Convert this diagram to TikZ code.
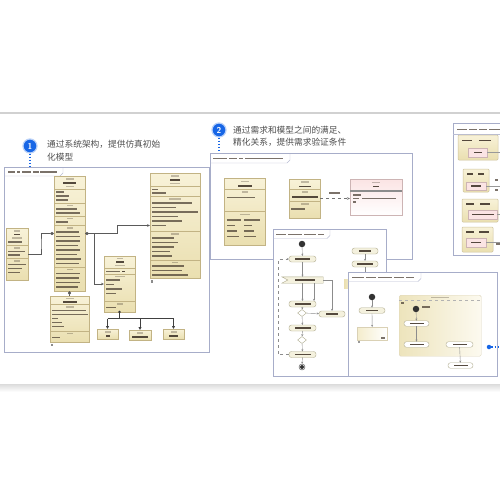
\documentclass[tikz,border=0pt]{standalone}
\usepackage{fontspec}
\newfontfamily\cjk{Noto Sans CJK SC}
\usetikzlibrary{arrows.meta,calc,shapes.geometric}
\definecolor{frameC}{HTML}{A7ADC9}
\definecolor{clsA}{HTML}{F8F2D8}
\definecolor{clsB}{HTML}{EADFB0}
\definecolor{clsD}{HTML}{C2B384}
\definecolor{pinkA}{HTML}{FBE4E4}
\definecolor{pinkD}{HTML}{CDB4B4}
\definecolor{actA}{HTML}{F4F1DE}
\definecolor{actD}{HTML}{AFAB8E}
\definecolor{txtC}{HTML}{43372C}
\definecolor{blueC}{HTML}{1766E6}
\definecolor{capC}{HTML}{4F4F4F}
\definecolor{connC}{HTML}{5A5A5A}
\newcommand\txl[3]{\fill[txtC, fill opacity=0.7] (#1,#2-0.85) rectangle ++(#3,1.7);}
\newcommand\txc[3]{\fill[txtC, fill opacity=0.9] ({#1-#3/2},#2-0.9) rectangle ++(#3,1.8);}
\newcommand\txs[3]{\fill[txtC, fill opacity=0.3] ({#1-#3/2},#2-0.6) rectangle ++(#3,1.2);}
\newcommand\dv[3]{\draw[clsD, line width=0.4pt] (#1,#3) -- (#2,#3);}
\begin{document}
\begin{tikzpicture}[x=1pt,y=-1pt,
  frame/.style={draw=frameC, line width=0.9pt, fill=white, anchor=north west, inner sep=0pt, outer sep=0pt},
  cls/.style={draw=clsD, line width=0.5pt, top color=clsA, bottom color=clsB, anchor=north west, inner sep=0pt, outer sep=0pt},
  pinkbox/.style={draw=pinkD, line width=0.5pt, top color=pinkA, bottom color=white, anchor=north west, inner sep=0pt, outer sep=0pt},
  act/.style={draw=actD, line width=0.4pt, rounded corners=2.5pt, fill=actA, minimum width=27pt, minimum height=6pt, inner sep=0pt, outer sep=0pt},
  conn/.style={draw=connC, line width=0.6pt},
  flow/.style={draw=black!45, line width=0.4pt, -{Stealth[length=2.2pt,width=2pt]}},
  tabline/.style={draw=frameC!80, line width=0.4pt},
  caption/.style={anchor=west, inner sep=0pt, text=capC, font=\cjk\fontsize{8.7}{10}\selectfont},
  badge/.style={circle, fill=blueC, draw=blueC!30, line width=1.2pt, minimum size=14pt, inner sep=0pt, text=white, font=\sffamily\bfseries\fontsize{8.5}{8.5}\selectfont},
  bluedot/.style={blueC, dotted, line width=1.1pt},
  init/.style={circle, fill=black!80, minimum size=6.5pt, inner sep=0pt},
  dec/.style={diamond, draw=actD, fill=white, minimum width=9pt, minimum height=7pt, inner sep=0pt},
  sbox/.style={draw=clsD!80, line width=0.5pt, top color=clsA, bottom color=clsB, rounded corners=1pt, anchor=north west, inner sep=0pt, outer sep=0pt},
  pk/.style={draw=pinkD, line width=0.4pt, fill=pinkA, anchor=north west, inner sep=0pt, outer sep=0pt}]
\useasboundingbox (0,0) rectangle (500,500);
\fill[white] (0,0) rectangle (500,500);
\draw[black!18, line width=1.2pt] (0,113) -- (500,113);
\shade[top color=black!14, bottom color=white] (0,384) rectangle (500,392);

% ---------- captions ----------
\node[badge] (n1) at (30,146) {1};
\node[caption] (cap1a) at (47,144) {通过系统架构，提供仿真初始};
\node[caption] (cap1b) at (47,157) {化模型};
\node[badge] (n2) at (219,130) {2};
\node[caption] (cap2a) at (233,130) {通过需求和模型之间的满足、};
\node[caption] (cap2b) at (233,142.5) {精化关系，提供需求验证条件};

% ---------- frame 1 ----------
\node[frame, minimum width=205pt, minimum height=185pt] (fr1) at (4,167) {};
\draw[bluedot] (n1.south) -- (n1.south |- fr1.north);
\draw[tabline] (4,176) -- (60,176) -- (63,173) -- (63,168);
\txl{8}{172}{7}\txl{17}{172}{3}\txl{22}{172}{9}\txl{33}{172}{6}\txl{40}{172}{17}

% box A
\node[cls, minimum width=31pt, minimum height=115pt] (a1) at (54,176) {};
\txs{69.5}{179}{8}\txc{69.5}{183}{13}\txs{69.5}{186.5}{8}
\dv{54}{85}{189}
\foreach \y/\w in {192/8,196/13,200/12}{\txl{56}{\y}{\w}}
\dv{54}{85}{203}\txs{69.5}{205.5}{6}
\foreach \y/\w in {209/21,213/24}{\txl{56}{\y}{\w}}
\dv{54}{85}{216}\txs{69.5}{218.5}{6}
\txl{56}{222}{12}
\dv{54}{85}{225.5}\txs{69.5}{228}{6}
\foreach \y/\w in {232/23,236.5/24,241/24,245.5/22,250/24,254.5/21,259/25,263.5/23}{\txl{56}{\y}{\w}}
\dv{54}{85}{267}\txs{69.5}{269.5}{6}
\foreach \y/\w in {273.5/24,278/23,282.5/24,287/22}{\txl{56}{\y}{\w}}

% box B
\node[cls, minimum width=22pt, minimum height=52pt] (b1) at (6,228) {};
\txs{17}{231}{6}\txc{17}{234.5}{6}\txs{17}{238}{10}
\txl{8}{242}{14}
\dv{6}{28}{245.5}\txs{17}{248}{6}
\txl{8}{251.5}{17}\txl{8}{255}{12}
\dv{6}{28}{258.5}\txs{17}{261}{6}
\txl{8}{264.5}{18}\txl{8}{268.5}{14}\txl{8}{272.5}{12}

% box C
\node[cls, minimum width=50pt, minimum height=105pt] (c1) at (150,173) {};
\txs{175}{176}{8}\txc{175}{180}{10}\txs{175}{183.5}{10}
\dv{150}{200}{186}
\txl{152}{189.5}{6}\txl{152}{193}{14}
\dv{150}{200}{196.5}\txs{175}{199}{12}
\foreach \y/\w in {203/40,207.5/24,212/46,216.5/26,221/30,225.5/14}{\txl{152}{\y}{\w}}
\dv{150}{200}{231}\txs{175}{234}{8}
\foreach \y/\w in {238/22,242.5/26,247/22,251.5/18,256/20}{\txl{152}{\y}{\w}}
\dv{150}{200}{260}\txs{175}{262.5}{6}
\foreach \y/\w in {266/32,270.5/30,275/36}{\txl{152}{\y}{\w}}
\fill[black!45] (151,280) rectangle (153,282.5);

% box D
\node[cls, minimum width=39pt, minimum height=46pt] (d1) at (50,296) {};
\txs{69.5}{298.5}{8}\txc{69.5}{302}{14}
\dv{50}{89}{304.5}\txs{69.5}{307}{8}
\foreach \y/\w in {310.5/34,314.5/36,318.5/6,322.5/10,326.5/12}{\txl{52}{\y}{\w}}
\dv{50}{89}{331}\txs{69.5}{333.5}{6}
\txl{52}{337.5}{8}
\fill[black!45] (51,343.5) rectangle (53,346);

% box E
\node[cls, minimum width=31pt, minimum height=56pt] (e1) at (104,256) {};
\txs{119.5}{258.5}{6}\txc{119.5}{262}{8}\txs{119.5}{265.5}{10}
\dv{104}{135}{268}
\txl{106}{271.5}{14}\txc{123}{271.5}{3}
\dv{104}{135}{274}\txs{119.5}{276.5}{10}
\foreach \y/\w in {280/14,284.5/8,289/16,293.5/10}{\txl{106}{\y}{\w}}
\dv{104}{135}{301.5}\txs{119.5}{304}{6}
\txl{106}{307.5}{10}

% small boxes
\node[cls, minimum width=21pt, minimum height=10pt] (g1f) at (97,329) {};
\txs{107.5}{332}{6}\txc{107.5}{336}{4}
\node[cls, minimum width=22pt, minimum height=10pt] (g1g) at (129,330) {};
\txs{140}{333}{6}\txc{140}{337}{16}
\node[cls, minimum width=21pt, minimum height=10pt] (g1h) at (163,329) {};
\txs{173.5}{332}{6}\txc{173.5}{336}{9}

% connectors frame 1
\draw[conn, -{Diamond[length=4pt,width=3.2pt]}] (b1.east) -| ($(b1.east)!0.5!(a1.west)$) |- (a1.west);
\draw[conn, {Diamond[length=4pt,width=3.2pt]}-{Stealth[length=3pt,width=2.6pt]}] (a1.east) -- ++(32,0) |- (c1.west);
\draw[conn, -{Stealth[length=3pt,width=2.6pt,open]}] (a1.east) -- ++(9,0) |- (e1.west);
\draw[conn, {Diamond[length=4pt,width=3.2pt]}-] (a1.south) -- (d1.north);
\coordinate (bus) at (119.5,318.5);
\fill[black!80] (e1.south) circle (1.3);
\draw[black!75, line width=1pt] (e1.south) -- (bus);
\draw[black!75, line width=1pt] (g1f.north |- bus) -- (g1h.north |- bus);
\foreach \t in {g1f,g1g,g1h}{\draw[black!75, line width=1pt, -{Triangle[length=3pt,width=3pt,open]}] (\t.north |- bus) -- (\t.north);}

% ---------- frame 2 ----------
\node[frame, minimum width=202pt, minimum height=106pt] (fr2) at (210,153) {};
\draw[bluedot] (n2.south) -- (n2.south |- fr2.north);
\draw[tabline] (210,163) -- (287,163) -- (290,160) -- (290,154);
\txl{213}{158.5}{14}\txl{229}{158.5}{8}\txl{239}{158.5}{4}\txl{245}{158.5}{38}

\node[cls, minimum width=41pt, minimum height=67pt] (i1) at (224,178) {};
\txs{244.5}{181.5}{8}\txc{244.5}{186}{14}
\dv{224}{265}{189.5}\txs{244.5}{192}{6}
\txl{227}{197.5}{28}
\dv{224}{265}{211.5}\txs{244.5}{214.5}{10}
\foreach \y/\a/\b in {220/14/16,225.5/8/8,231/10/10,236.5/12/12}{\txl{227}{\y}{\a}\txl{244}{\y}{\b}}

\node[cls, minimum width=31pt, minimum height=39pt] (j1) at (289,179) {};
\txs{304.5}{182}{8}\txc{304.5}{186.5}{12}
\dv{289}{320}{189.5}\txs{304.5}{192}{6}
\txc{304.5}{197}{26}
\dv{289}{320}{201.5}\txs{304.5}{204}{8}
\txl{291}{209}{14}

\node[pinkbox, minimum width=52pt, minimum height=36pt] (k1) at (350,179) {};
\txs{376}{182.5}{8}\txc{376}{186.5}{6}
\draw[black!45, line width=1.2pt] (350,191) -- (402,191);
\txl{353}{195}{8}\txl{353}{198.5}{6}\txl{362}{198.5}{34}\txl{353}{202}{3}
\draw[black!55, dashed, line width=0.4pt, -{Stealth[length=3pt,width=2.5pt]}] (j1.east) -- (k1.west |- j1.east);
\txl{329}{193}{11}

% ---------- frame 3 (activity) ----------
\node[frame, minimum width=113pt, minimum height=147pt] (fr3) at (273,229) {};
\draw[tabline] (273,238.5) -- (327,238.5) -- (330,235.5) -- (330,230);
\txl{276}{234.5}{10}\txl{288}{234.5}{14}\txl{304}{234.5}{12}\txl{318}{234.5}{6}

\node[init] (i3) at (302,244) {};
\node[act] (act1) at (302.5,259) {};
\txc{302.5}{259}{15}
\node[inner sep=0pt, minimum width=41pt, minimum height=6pt] (acc) at (302.5,280) {};
\draw[actD, fill=actA, line width=0.4pt] (acc.north west) -- (acc.north east) -- (acc.south east) -- (acc.south west) -- ($(acc.west)+(6,0)$) -- cycle;
\txc{305}{280}{20}
\node[act] (act2) at (302.5,304) {};
\txc{302.5}{304}{16}
\node[dec] (d31) at (302,313) {};
\node[act, minimum width=26pt] (act3) at (332,314) {};
\txc{332}{314}{12}
\node[act] (act4) at (302.5,328) {};
\txc{302.5}{328}{16}
\node[dec] (d32) at (302,340) {};
\node[act] (act5) at (302.5,354.5) {};
\txc{302.5}{354.5}{16}
\node[circle, draw=black!75, fill=white, minimum size=6pt, inner sep=0pt] (fin3) at (302,367) {};
\fill[black!80] (fin3) circle (2);

\draw[flow] (i3) -- (act1);
\draw[flow] (act1) -- (acc);
\draw[flow] (acc) -- (act2);
\draw[flow] (act2) -- (d31);
\draw[flow] (d31) -- (act4);
\draw[flow] (act4) -- (d32);
\draw[flow] (d32) -- (act5);
\draw[flow] (act5) -- (fin3);
\draw[flow] (d31) -- (act3);
\draw[flow] (acc.east) -| (act3.north);
\coordinate (q) at ([xshift=-2pt]act2.north east);
\draw[flow] (acc.south -| q) -- (q);
\draw[flow, dashed] (act5.west) -- ++(-11,0) |- (act1.west);

\node[act, minimum width=26pt] (n31) at (365,251) {};
\txc{365}{251}{12}
\node[act, minimum width=26pt] (n32) at (365,264) {};
\txc{365}{264}{16}
\draw[flow] (n31) -- (n32);
\draw[black!45, line width=0.4pt] (n32.south) -- ++(0,10);
\shade[left color=clsB, right color=clsA] (344,279) rectangle (352,288);

% ---------- frame 4 (state machine) ----------
\node[frame, minimum width=149pt, minimum height=104pt] (fr4) at (348,272) {};
\draw[tabline] (348,281.5) -- (418,281.5) -- (421,278.5) -- (421,273);
\txl{352}{277.5}{12}\txl{366}{277.5}{10}\txl{378}{277.5}{14}\txl{394}{277.5}{10}\txl{406}{277.5}{8}

\node[init] (i4) at (372,297) {};
\node[act, minimum width=26pt, minimum height=5.5pt] (act6) at (372,310.5) {};
\txc{372}{310.5}{12}
\node[anchor=north west, inner sep=0pt, minimum width=30pt, minimum height=13pt, draw=clsD!60, left color=clsA!70!clsB, right color=white] (br) at (357,327) {};
\txl{381}{338}{4}\fill[black!40] (358,340.5) rectangle (360,343);
\draw[flow] (i4) -- (act6);
\draw[flow] (act6) -- (br);

\node[anchor=north west, inner sep=0pt, minimum width=82pt, minimum height=61pt, draw=clsD!55, left color=clsB!85, right color=clsA!40, rounded corners=1.5pt] (cs) at (399,295) {};
\draw[dashed, black!30, line width=0.3pt] (cs.north west) ++(0,5.5) -- ++(82,0);
\txs{440}{297.5}{18}
\txl{401}{303}{3}
\node[init] (i5) at (416,309) {};
\txl{422}{307}{8}
\node[act, minimum width=25pt, minimum height=5.5pt, fill=white] (s1) at (416.5,323.5) {};
\txc{416.5}{323.5}{14}
\node[act, minimum width=25pt, minimum height=5.5pt, fill=white] (s2) at (416.5,344.5) {};
\txc{416.5}{344.5}{14}
\node[act, minimum width=27pt, minimum height=5.5pt, fill=white] (s3) at (459.5,344.5) {};
\txc{459.5}{344.5}{14}
\node[act, minimum width=25pt, minimum height=5.5pt, fill=white] (s4) at (460.5,365.5) {};
\txc{460.5}{365.5}{14}
\draw[flow] (i5) -- (s1);
\draw[flow] (s1) -- (s2);
\draw[flow] (s3) -- (s4);

\node[circle, fill=blueC, minimum size=4.5pt, inner sep=0pt] (bd) at (489,347) {};
\coordinate (be) at (500,347);
\draw[bluedot] (bd) -- (be);

% ---------- frame 5 (right) ----------
\node[frame, minimum width=60pt, minimum height=132pt] (fr5) at (453,123) {};
\draw[tabline] (453,134) -- (500,134);
\txl{457}{129.5}{10}\txl{469}{129.5}{8}\txl{479}{129.5}{8}\txl{489}{129.5}{11}

\node[sbox, minimum width=40pt, minimum height=25pt] (b51) at (458,135) {};
\txc{467}{140.5}{10}\txc{485}{140.5}{12}
\node[pk, minimum width=19pt, minimum height=9pt] (p51) at (468,148) {};
\txc{477.5}{152.5}{8}
\draw[black!40, line width=0.4pt] (p51.east) -- (p51.east -| 500,0);

\node[sbox, minimum width=26pt, minimum height=23pt] (b52) at (463,169) {};
\txc{470}{174}{6}\txc{481}{174}{6}
\node[pk, minimum width=20pt, minimum height=8pt] (p52) at (466,182) {};
\txc{476}{186}{10}
\draw[black!40, line width=0.4pt] (p52.east) -- (p52.east -| 500,0);
\txl{495}{180}{3}\txl{495}{190}{3}

\node[sbox, minimum width=36pt, minimum height=23pt] (b53) at (462,199) {};
\txc{470}{204}{8}\txc{485}{204}{10}
\node[pk, minimum width=29pt, minimum height=9pt] (p53) at (468,210) {};
\txc{482.5}{214.5}{22}
\draw[black!40, line width=0.4pt] (p53.east) -- (p53.east -| 500,0);

\node[sbox, minimum width=31pt, minimum height=25pt] (b54) at (462,227) {};
\txc{470}{232}{8}\txc{484}{232}{10}
\node[pk, minimum width=20pt, minimum height=9pt] (p54) at (466,238) {};
\txc{476}{242.5}{10}
\draw[black!40, line width=0.4pt] (p54.east) -- (p54.east -| 500,0);
\txl{496}{244}{4}
\end{tikzpicture}
\end{document}
